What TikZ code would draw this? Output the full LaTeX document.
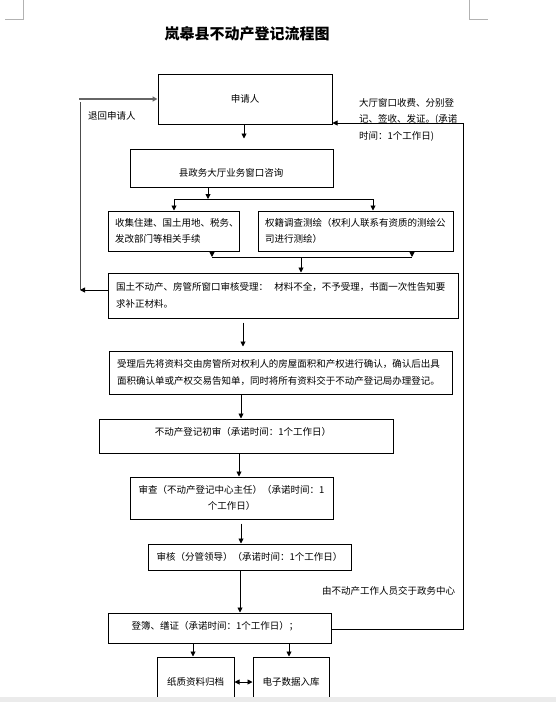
\documentclass[tikz,border=0pt]{standalone}
\usepackage{fontspec}
\setmainfont{Noto Sans CJK SC}
\usetikzlibrary{arrows.meta}
\begin{document}
\begin{tikzpicture}[x=1pt,y=-1pt,
  box/.style={draw, line width=1pt, inner sep=0pt, font=\fontsize{9.5}{16.5}\selectfont},
  txt/.style={inner sep=0pt, font=\fontsize{9.5}{16.5}\selectfont},
  lbl/.style={inner sep=0pt, font=\fontsize{9.5}{16.5}\selectfont},
  arr/.style={-{Triangle[length=5pt,width=5pt]}, line width=0.9pt},
  plain/.style={line width=0.9pt},
  graylink/.style={line width=1.3pt, draw=black!60},
  cornermark/.style={line width=0.6pt, draw=black!30}]
\useasboundingbox (0,0) rectangle (556,702);
\clip (0,0) rectangle (556,702);
% page corner marks
\draw[cornermark] (5,19) -- (23,19) -- (23,0);
\draw[cornermark] (469,0) -- (469,19) -- (488,19);
% title
\node[inner sep=0pt, font=\fontsize{15}{18}\selectfont\bfseries] (title) at (247,34) {岚皋县不动产登记流程图};
% boxes
\node[box, minimum width=174pt, minimum height=50pt] (b1) at (245,99) {申请人};
\node[box, minimum width=203pt, minimum height=38pt] (b2) at (231.5,168) {};
\node[txt] (t2) at (231,173) {县政务大厅业务窗口咨询};
\node[box, minimum width=131pt, minimum height=40pt, text width=117pt, align=left] (b3a) at (173.5,231) {收集住建、国土用地、税务、\\发改部门等相关手续};
\node[box, minimum width=195pt, minimum height=40pt, text width=181pt, align=left] (b3b) at (355.5,231) {权籍调查测绘（权利人联系有资质的测绘公\\司进行测绘）};
\node[box, minimum width=350pt, minimum height=45pt, text width=334pt, align=left] (b4) at (283,295.5) {国土不动产、房管所窗口审核受理：\ \ 材料不全，不予受理，书面一次性告知要\\求补正材料。};
\node[box, minimum width=343pt, minimum height=43pt, text width=327pt, align=left] (b5) at (280.5,372.5) {受理后先将资料交由房管所对权利人的房屋面积和产权进行确认，确认后出具\\面积确认单或产权交易告知单，同时将所有资料交于不动产登记局办理登记。};
\node[box, minimum width=294pt, minimum height=34pt] (b6) at (246,436) {};
\node[txt] (t6) at (243,432) {不动产登记初审（承诺时间：1个工作日）};
\node[box, minimum width=203pt, minimum height=42pt, align=center] (b7) at (231.5,498) {审查（不动产登记中心主任）（承诺时间：1\\个工作日）};
\node[box, minimum width=203pt, minimum height=26pt] (b8) at (249.5,557) {审核（分管领导）（承诺时间：1个工作日）};
\node[box, minimum width=223pt, minimum height=30pt] (b9) at (219.5,628) {};
\node[txt] (t9) at (215,626) {登簿、缮证（承诺时间：1个工作日）；};
\node[box, minimum width=77pt, minimum height=50pt] (b10) at (195.5,682) {纸质资料归档};
\node[box, minimum width=76pt, minimum height=50pt] (b11) at (291,682) {电子数据入库};
% labels
\node[lbl, anchor=west] (lret) at (88,116) {退回申请人};
\node[lbl, anchor=west, align=left] (lhall) at (359,119.5) {大厅窗口收费、分别登\\记、签收、发证。(承诺\\时间：1个工作日)};
\node[lbl, anchor=west] (lgov) at (322,591) {由不动产工作人员交于政务中心};
% coordinates
\coordinate (x1) at (244,0);
\coordinate (s1) at (208,199);
\coordinate (s1l) at (174,199);
\coordinate (s1r) at (373,199);
\coordinate (jl) at (212,257);
\coordinate (jr) at (412,257);
\coordinate (j) at (301,257);
\coordinate (L1) at (80,290);
\coordinate (L2) at (80,102);
\coordinate (L3) at (79,99);
\coordinate (x4) at (243,0);
\coordinate (x5) at (241,0);
\coordinate (x6) at (239,0);
\coordinate (x7) at (241,0);
\coordinate (x8) at (240,0);
\coordinate (x9a) at (193,0);
\coordinate (x9b) at (289,0);
\coordinate (R1) at (463,629);
\coordinate (R2) at (463,123);
% connectors
\draw[arr, shorten >=10pt] (b1.south -| x1) -- (b2.north -| x1);
\draw[arr] (b2.south -| s1) -- (s1);
\draw[plain] (s1l) -- (s1r);
\draw[arr] (s1l) -- (b3a.north -| s1l);
\draw[arr] (s1r) -- (b3b.north -| s1r);
\draw[arr] (b3a.south -| jl) -- (jl);
\draw[arr] (b3b.south -| jr) -- (jr);
\draw[plain] (jl) -- (jr);
\draw[arr] (j) -- (b4.north -| j);
\draw[arr] (b4.west |- L1) -- (L1);
\draw[plain, draw=black!70] (L1) -- (L2);
\draw[graylink, -{Triangle[length=5pt,width=5pt]}] (L3) -- (b1.west |- L3);
\draw[arr, shorten <=4pt, shorten >=4pt] (b4.south -| x4) -- (b5.north -| x4);
\draw[arr] (b5.south -| x5) -- (b6.north -| x5);
\draw[arr] (b6.south -| x6) -- (b7.north -| x6);
\draw[arr, shorten <=4pt] (b7.south -| x7) -- (b8.north -| x7);
\draw[arr] (b8.south -| x8) -- (b9.north -| x8);
\draw[arr] (b9.south -| x9a) -- (b10.north -| x9a);
\draw[arr] (b9.south -| x9b) -- (b11.north -| x9b);
\draw[{Triangle[length=5pt,width=5pt]}-{Triangle[length=5pt,width=5pt]}, line width=0.9pt] (b10.east) -- (b11.west);
\draw[plain] (b9.east |- R1) -- (R1) -- (R2);
\draw[arr] (R2) -- (b1.east |- R2);
% bottom bar
\fill[black!8] (0,697) rectangle (556,702);
\end{tikzpicture}
\end{document}
